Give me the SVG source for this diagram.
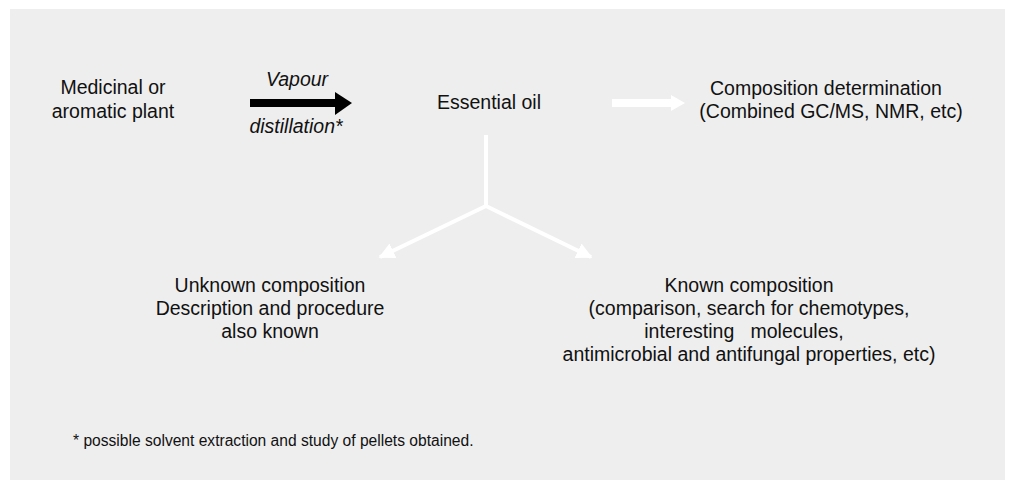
<svg xmlns="http://www.w3.org/2000/svg" width="1013" height="487" viewBox="0 0 1013 487">
<style>
text{font-family:"Liberation Sans",Arial,sans-serif;font-size:19.5px;fill:#111;text-anchor:middle}
.it{font-style:italic}
.fn{font-size:15.6px;text-anchor:start}
.wl{stroke:#ffffff;fill:none}
</style>
<defs>
<marker id="wh" viewBox="0 0 10 10" refX="9" refY="5" markerWidth="4" markerHeight="4" orient="auto" markerUnits="strokeWidth">
<path d="M0,0 L10,5 L0,10 Z" fill="#ffffff"/>
</marker>
</defs>
<rect width="1013" height="487" fill="#ffffff"/>
<rect x="10" y="9" width="995" height="471" fill="#eeeeee"/>
<g id="connectors">
<path d="M250,103 H336" stroke="#000" stroke-width="8"/>
<path d="M335,92 L352,103 L335,115 Z" fill="#000"/>
<path d="M612,103 H672" stroke="#fff" stroke-width="8"/>
<path d="M671,95 L685,103 L671,111 Z" fill="#fff"/>
<path class="wl" d="M486,135 V206" stroke-width="4"/>
<path class="wl" d="M486,206 L380,257" stroke-width="4" marker-end="url(#wh)"/>
<path class="wl" d="M486,206 L591,257" stroke-width="4" marker-end="url(#wh)"/>
</g>
<g id="plant"><text x="113" y="94">Medicinal or</text><text x="113" y="118">aromatic plant</text></g>
<g id="label-vapour"><text class="it" x="297" y="86">Vapour</text><text class="it" x="296" y="133">distillation*</text></g>
<g id="oil"><text x="489" y="109">Essential oil</text></g>
<g id="composition"><text x="826" y="95">Composition determination</text><text x="831" y="118">(Combined GC/MS, NMR, etc)</text></g>
<g id="unknown"><text x="270" y="292">Unknown composition</text><text x="270" y="315">Description and procedure</text><text x="270" y="338">also known</text></g>
<g id="known"><text x="749" y="292">Known composition</text><text x="749" y="315">(comparison, search for chemotypes,</text><text x="744" y="338" xml:space="preserve">interesting   molecules,</text><text x="749" y="361">antimicrobial and antifungal properties, etc)</text></g>
<g id="footnote"><text class="fn" x="73" y="446">* possible solvent extraction and study of pellets obtained.</text></g>
</svg>
